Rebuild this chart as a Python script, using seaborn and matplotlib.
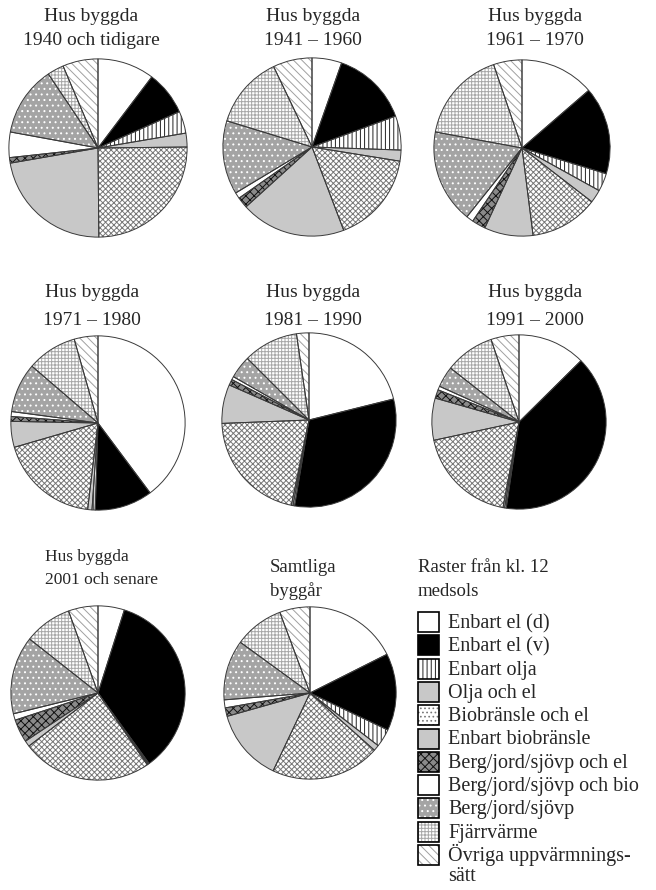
import matplotlib
matplotlib.use("Agg")
import matplotlib.pyplot as plt
import seaborn as sns
from matplotlib.patches import Rectangle

# heating categories, clockwise from 12 o'clock
categories = ["Enbart el (d)", "Enbart el (v)", "Enbart olja", "Olja och el",
              "Biobränsle och el", "Enbart biobränsle", "Berg/jord/sjövp och el",
              "Berg/jord/sjövp och bio", "Berg/jord/sjövp", "Fjärrvärme",
              "Övriga uppvärmnings-\nsätt"]

# share (%) per building period
p_1940 = [10.3, 8.0, 4.0, 2.5, 25.0, 22.4, 1.0, 4.6, 12.7, 3.0, 6.4]
p_1941_1960 = [5.4, 14.0, 6.2, 2.0, 16.7, 19.1, 2.0, 1.1, 13.4, 13.2, 7.1]
p_1961_1970 = [13.6, 16.0, 3.3, 2.4, 12.5, 8.9, 2.5, 1.3, 17.1, 16.8, 5.2]
p_1971_1980 = [39.8, 10.7, 0.6, 0.8, 18.6, 4.8, 0.9, 0.9, 9.2, 9.3, 4.4]
p_1981_1990 = [21.1, 31.5, 0.3, 0.3, 21.1, 7.2, 1.1, 0.6, 4.2, 10.2, 2.3]
p_1991_2000 = [12.6, 39.8, 0.3, 0.3, 18.7, 7.8, 1.6, 0.7, 3.9, 9.2, 5.2]
p_2001 = [4.9, 35.2, 0.2, 0.2, 24.2, 1.1, 4.3, 1.2, 14.5, 8.9, 5.5]
p_all = [17.6, 14.5, 3.4, 1.1, 20.5, 13.6, 1.6, 1.5, 11.3, 9.3, 5.7]

titles = [("Hus byggda", "1940 och tidigare"), ("Hus byggda", "1941 – 1960"),
          ("Hus byggda", "1961 – 1970"), ("Hus byggda", "1971 – 1980"),
          ("Hus byggda", "1981 – 1990"), ("Hus byggda", "1991 – 2000"),
          ("Hus byggda", "2001 och senare"), ("Samtliga", "byggår")]
series = [p_1940, p_1941_1960, p_1961_1970, p_1971_1980,
          p_1981_1990, p_1991_2000, p_2001, p_all]

# fill style per category: face, hatch, hatch colour
faces = ["white", "black", "white", "#c8c8c8", "white", "#c8c8c8",
         "#8a8a8a", "white", "#a4a4a4", "white", "white"]
hatches = [None, None, "||||", None, "xxxxxx", None, "xxxx", None, "...", "+++++", "\\\\\\\\"]
hatch_cols = ["none", "none", "#222222", "none", "#777777", "none", "#111111",
              "none", "white", "#a8a8a8", "#a0a0a0"]
# legend swatches (the legend uses a sparser dot for Biobränsle och el)
leg_hatches = [None, None, "||||", None, "....", None, "xxxx", None, "...", "+++++", "\\\\\\\\"]
leg_hatch_cols = ["none", "none", "#222222", "none", "#777777", "none", "#111111",
                  "none", "white", "#a8a8a8", "#a0a0a0"]

sns.set_theme(style="white")
plt.rcParams["font.family"] = ["Liberation Serif", "DejaVu Serif"]
plt.rcParams["hatch.linewidth"] = 0.7

W, H = 656, 890
fig = plt.figure(figsize=(W / 100, H / 100), dpi=100)

# pie centres and radii in pixels
pie_pos = [(98, 148, 90), (312, 147, 90), (522, 148, 89),
           (98, 423, 88), (309, 420, 88), (519, 422, 88),
           (98, 693, 88), (310, 693, 87)]

for vals, (cx, cy, r) in zip(series, pie_pos):
    ax = fig.add_axes([(cx - r) / W, 1 - (cy + r) / H, 2 * r / W, 2 * r / H])
    wedges, _ = ax.pie(vals, colors=faces, hatch=hatches, startangle=90,
                       counterclock=False, wedgeprops=dict(linewidth=0))
    for w, hc in zip(wedges, hatch_cols):
        w.set_edgecolor(hc)
        w.set_linewidth(0)
    ax.pie(vals, startangle=90, counterclock=False,
           wedgeprops=dict(fill=False, edgecolor="#3a3a3a", linewidth=0.7))
    ax.set_xlim(-1.01, 1.01)
    ax.set_ylim(-1.01, 1.01)
    ax.set_aspect("equal")
    ax.axis("off")

# titles: (x, baseline1, baseline2, align, size)
title_pos = [(91, 21, 45, "center", 14), (313, 21, 45, "center", 14),
             (535, 21, 45, "center", 14), (92, 297, 325, "center", 14),
             (313, 297, 325, "center", 14), (535, 297, 325, "center", 14),
             (45, 561, 584, "left", 12.5), (270, 572, 596, "left", 13.5)]
for (l1, l2), (x, y1, y2, ha, fs) in zip(titles, title_pos):
    fig.text(x / W, 1 - y1 / H, l1, ha=ha, va="baseline", fontsize=fs)
    fig.text(x / W, 1 - y2 / H, l2, ha=ha, va="baseline", fontsize=fs)

fig.text(418 / W, 1 - 572 / H, "Raster från kl. 12", ha="left", va="baseline", fontsize=13.5)
fig.text(418 / W, 1 - 596 / H, "medsols", ha="left", va="baseline", fontsize=13.5)

# legend drawn in pixel space
lax = fig.add_axes([0, 0, 1, 1], facecolor="none")
lax.set_xlim(0, W)
lax.set_ylim(H, 0)
lax.axis("off")
row0, step = 622, 23.3
for i, lab in enumerate(categories):
    yc = row0 + i * step
    lax.add_patch(Rectangle((418, yc - 10), 21, 20, facecolor=faces[i],
                            hatch=leg_hatches[i], edgecolor=leg_hatch_cols[i], linewidth=0))
    lax.add_patch(Rectangle((418, yc - 10), 21, 20, fill=False,
                            edgecolor="black", linewidth=1.2))
    for j, line in enumerate(lab.split("\n")):
        lax.text(448, yc + 6 + j * 20, line, ha="left", va="baseline", fontsize=14.5)

fig.savefig("out.png", dpi=100)
